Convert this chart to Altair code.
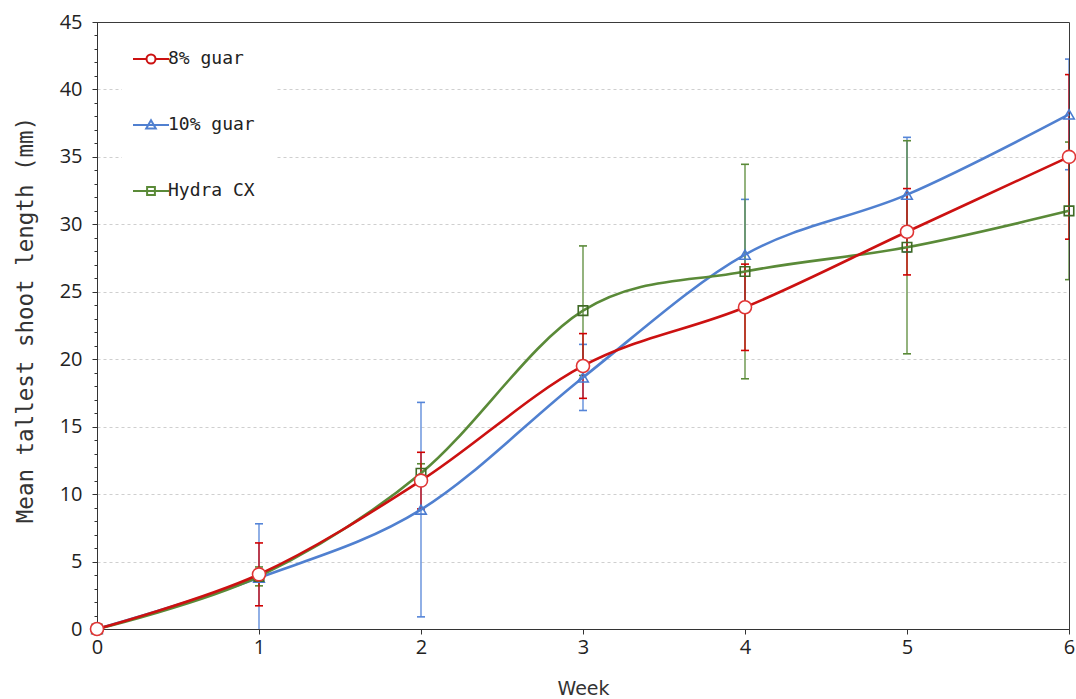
import altair as alt
import pandas as pd

weeks = [0, 1, 2, 3, 4, 5, 6]
series_names = ["8% guar", "10% guar", "Hydra CX"]
guar8 = [0, 4.05, 11.0, 19.5, 23.85, 29.45, 35.0]
guar8_err = [0, 2.33, 2.1, 2.4, 3.2, 3.2, 6.1]
guar10 = [0, 3.8, 8.85, 18.65, 27.75, 32.2, 38.15]
guar10_err = [0, 4.0, 7.95, 2.45, 4.1, 4.25, 4.1]
hydra = [0, 3.9, 11.55, 23.6, 26.5, 28.3, 31.0]
hydra_err = [0, 0.7, 0.7, 4.8, 7.95, 7.9, 5.1]

y_ticks = list(range(0, 46, 5))
y_minor = list(range(0, 46, 1))

line_colors = ["#cc1111", "#5080d0", "#5a8a38"]
err_colors = ["#d00000", "#5585d8", "#5a8a38"]
marker_strokes = ["#e03535", "#4a7bd0", "#3f6a25"]
marker_shapes = ["circle", "triangle-up", "square"]
marker_sizes = [170, 110, 90]
marker_fills = ["white", "transparent", "transparent"]
legend_paths = [
    "M-3,0H-0.75M0.75,0H3M0.75,0A0.75,0.75,0,1,1,-0.75,0A0.75,0.75,0,1,1,0.75,0Z",
    "M-3,0H3M0,-0.8L0.8,0.6L-0.8,0.6Z",
    "M-3,0H3M-0.65,-0.65H0.65V0.65H-0.65Z",
]

rows = []
for name, vals, errs in [(series_names[0], guar8, guar8_err),
                         (series_names[1], guar10, guar10_err),
                         (series_names[2], hydra, hydra_err)]:
    for w, v, e in zip(weeks, vals, errs):
        rows.append({"series": name, "week": w, "value": v, "lo": v - e, "hi": v + e})
df = pd.DataFrame(rows)

xscale = alt.Scale(domain=[0, 6], nice=False)
yscale = alt.Scale(domain=[0, 45], nice=False)

base = alt.Chart(df)

x_axis = alt.Axis(
    values=weeks, format="d", grid=False, tickSize=5, labelPadding=3, labelFlush=False,
    title="Week", titleFont="DejaVu Sans", titleFontSize=19, titleFontWeight="normal",
    titleColor="#333", titleY=59, titleBaseline="middle", titleX=486,
    labelFont="Open Sans", labelFontSize=20, labelColor="#222")
X = alt.X("week:Q", scale=xscale, axis=x_axis)

y_main = alt.Y("value:Q", scale=yscale, axis=alt.Axis(
    values=y_ticks, grid=True, gridDash=[3, 3], gridColor="#cfcfcf", tickSize=5,
    gridOpacity={"condition": {"test": "datum.value >= 45 || datum.value <= 0", "value": 0},
                 "value": 1},
    labelPadding=10, orient="left", labelFlush=False,
    title="Mean tallest shoot length (mm)", titleFont="DejaVu Sans Mono",
    titleFontSize=22.5, titleFontWeight="normal", titleColor="#333",
    titleX=-72, titleY=297.5, titleBaseline="middle", titleAlign="center",
    labelFont="Open Sans", labelFontSize=20, labelColor="#222"))

layers = []

# main axes carrier
layers.append(base.mark_point(opacity=0).encode(x=X, y=y_main))

# minor ticks axis
layers.append(base.mark_point(opacity=0).encode(
    x=X,
    y=alt.Y("value:Q", scale=yscale, axis=alt.Axis(
        values=y_minor, grid=False, labels=False, domain=False, tickSize=3,
        orient="left", title=None))))

# error bars (blue, green, red order)
for i in [1, 2, 0]:
    name = series_names[i]
    sub = base.transform_filter(alt.datum.series == name)
    layers.append(sub.mark_rule(color=err_colors[i], strokeWidth=1.3, clip=True).encode(
        x=X, y=alt.Y("lo:Q", scale=yscale, axis=None), y2="hi:Q"))
    for col in ["lo", "hi"]:
        layers.append(sub.mark_tick(color=err_colors[i], orient="horizontal", size=8,
                                    thickness=1.6, clip=True, opacity=1).encode(
            x=X, y=alt.Y(f"{col}:Q", scale=yscale, axis=None)))

# lines
for i in [1, 2, 0]:
    name = series_names[i]
    sub = base.transform_filter(alt.datum.series == name)
    layers.append(sub.mark_line(color=line_colors[i], strokeWidth=2.6,
                                interpolate="cardinal").encode(
        x=X, y=alt.Y("value:Q", scale=yscale, axis=None)))

# markers
for i in [1, 2, 0]:
    name = series_names[i]
    sub = base.transform_filter(alt.datum.series == name)
    layers.append(sub.mark_point(shape=marker_shapes[i], size=marker_sizes[i],
                                 filled=False, fill=marker_fills[i],
                                 stroke=marker_strokes[i], strokeWidth=1.6,
                                 opacity=1).encode(
        x=X, y=alt.Y("value:Q", scale=yscale, axis=None)))

# legend layer (no visible data)
legend_layer = base.transform_filter("false").mark_point(
    filled=False, fill="white", opacity=1, strokeWidth=2).encode(
    x=X, y=alt.Y("value:Q", scale=yscale, axis=None),
    stroke=alt.Stroke("series:N", scale=alt.Scale(domain=series_names, range=line_colors),
                      legend=alt.Legend(title=None)),
    shape=alt.Shape("series:N", scale=alt.Scale(domain=series_names, range=legend_paths),
                    legend=alt.Legend(title=None)),
)
layers.append(legend_layer)

chart = alt.layer(*layers).resolve_axis(y="independent").properties(
    width=972, height=607,
    autosize=alt.AutoSizeParams(type="none"),
    padding={"left": 97, "top": 22, "right": 7, "bottom": 70},
).configure_view(stroke="#3a3a3a", strokeWidth=1).configure_axis(
    domainColor="#333", tickColor="#333", domainWidth=1
).configure_legend(
    orient="none", legendX=25, legendY=8, padding=20, fillColor="white",
    rowPadding=48, symbolSize=144, symbolStrokeWidth=2, symbolFillColor="white",
    labelFont="DejaVu Sans Mono", labelFontSize=18, labelColor="#222",
    labelOffset=8, labelLimit=300, strokeColor="white"
)

chart.save("out.html", embed_options={"renderer": "svg", "actions": False})
